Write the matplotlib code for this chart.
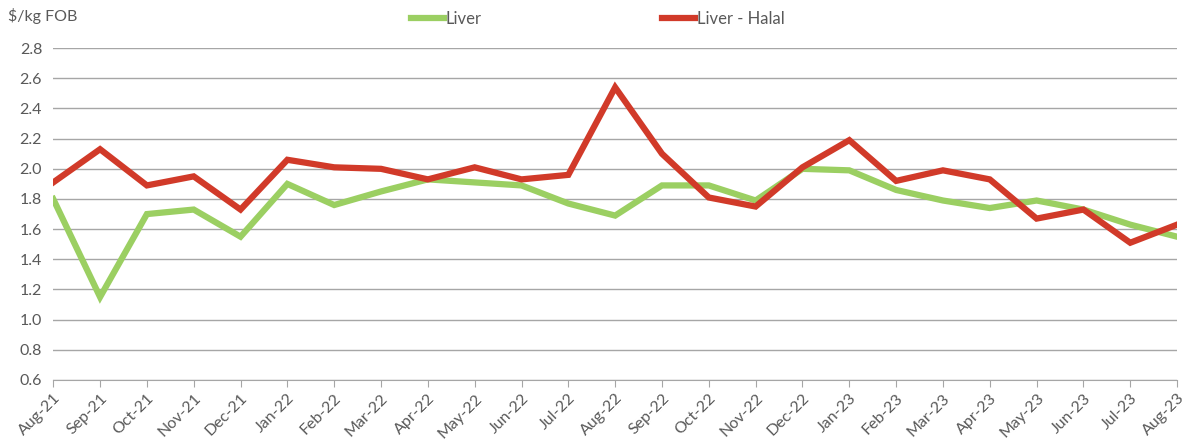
import matplotlib
matplotlib.use("Agg")
import matplotlib.pyplot as plt

months = ["Aug-21","Sep-21","Oct-21","Nov-21","Dec-21","Jan-22","Feb-22","Mar-22","Apr-22",
          "May-22","Jun-22","Jul-22","Aug-22","Sep-22","Oct-22","Nov-22","Dec-22","Jan-23",
          "Feb-23","Mar-23","Apr-23","May-23","Jun-23","Jul-23","Aug-23"]
liver = [1.80,1.15,1.70,1.73,1.55,1.90,1.76,1.85,1.93,1.91,1.89,1.77,1.69,1.89,1.89,1.79,
         2.00,1.99,1.86,1.79,1.74,1.79,1.73,1.63,1.55]
liver_halal = [1.91,2.13,1.89,1.95,1.73,2.06,2.01,2.00,1.93,2.01,1.93,1.96,2.54,2.10,1.81,
               1.75,2.01,2.19,1.92,1.99,1.93,1.67,1.73,1.51,1.63]
yticks = [0.6,0.8,1.0,1.2,1.4,1.6,1.8,2.0,2.2,2.4,2.6,2.8]

plt.rcParams['font.family'] = ['Lato', 'DejaVu Sans']
txt = '#595959'
fig = plt.figure(figsize=(11.83, 4.46), dpi=100)
ax = fig.add_axes([0.045, 0.148, 0.95, 0.744])
x = list(range(len(months)))
l1, = ax.plot(x, liver, color='#9BCF62', lw=4.5, label='Liver', solid_joinstyle='miter')
l2, = ax.plot(x, liver_halal, color='#D13A29', lw=4.5, label='Liver - Halal', solid_joinstyle='miter')
ax.set_xlim(0, len(months)-1)
ax.set_ylim(0.6, 2.8)
ax.set_yticks(yticks)
ax.set_yticklabels([f"{v:.1f}" for v in yticks], fontsize=11.5, color=txt)
ax.set_xticks(x)
ax.set_xticklabels(months, rotation=45, ha='right', rotation_mode='anchor', fontsize=11.5, color=txt)
ax.grid(axis='y', color='#A6A6A6', lw=1)
ax.set_axisbelow(True)
for s in ['top','right','left']:
    ax.spines[s].set_visible(False)
ax.spines['bottom'].set_color('#A6A6A6')
ax.tick_params(axis='y', length=0, pad=8)
ax.tick_params(axis='x', length=5, color='#A6A6A6', pad=3)
fig.text(8/1183, 1-16/446, "$/kg FOB", fontsize=11.5, color=txt, va='center', ha='left')
fig.legend(handles=[l1, l2], loc='center', bbox_to_anchor=(0.505, 1-19/446), ncol=2, frameon=False,
           fontsize=12, labelcolor=txt, handlelength=2.0, handletextpad=0.1, columnspacing=10.8)
fig.savefig("out.png", dpi=100)
